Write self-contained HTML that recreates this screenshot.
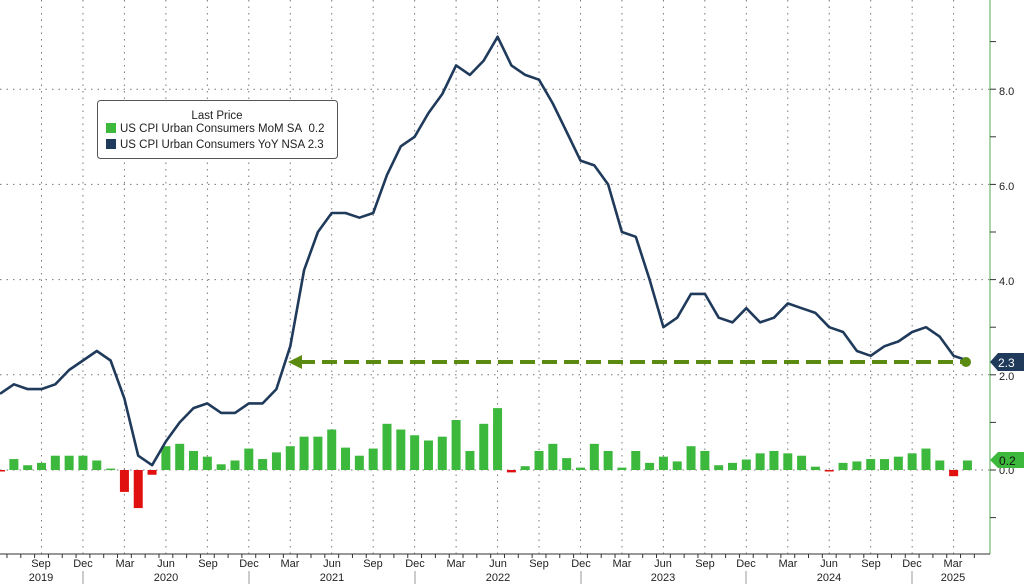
<!DOCTYPE html>
<html><head><meta charset="utf-8"><style>
html,body{margin:0;padding:0;background:#fff}
svg{display:block;font-family:"Liberation Sans",sans-serif}
</style></head><body>
<svg id="c" width="1024" height="584" viewBox="0 0 1024 584" xmlns="http://www.w3.org/2000/svg">
<g id="grid" stroke="#777" stroke-width="1" stroke-dasharray="1.5,5"></g>
<g id="bars"></g>
<polyline id="yoy" fill="none" stroke="#1f3a5a" stroke-width="2.6" stroke-linejoin="round"/>
<line x1="300" y1="362" x2="962" y2="362" stroke="#5a8a10" stroke-width="4" stroke-dasharray="15,7"/>
<polygon points="288,362 302,355 302,369" fill="#5a8a10"/>
<circle cx="966" cy="362" r="5" fill="#5a8a10"/>
<line x1="990" y1="0" x2="990" y2="554" stroke="#8cc68c" stroke-width="1.5"/>
<line x1="0" y1="554" x2="990" y2="554" stroke="#333" stroke-width="1"/>
<g id="ticks" stroke="#333" stroke-width="1"></g>
<g font-size="11" fill="#222">
<text x="999" y="95">8.0</text>
<text x="999" y="190">6.0</text>
<text x="999" y="285">4.0</text>
<text x="999" y="380">2.0</text>
<text x="999" y="474">0.0</text>
</g>
<polygon points="990,362 998,353 1024,353 1024,371 998,371" fill="#1f3a5a"/>
<text x="998" y="367" font-size="12" fill="#fff">2.3</text>
<polygon points="990,460 998,452 1024,452 1024,468 998,468" fill="#3cb83c"/>
<text x="999" y="465" font-size="12" fill="#111">0.2</text>
<g font-size="11" fill="#222" text-anchor="middle">
<text x="41" y="567">Sep</text><text x="83" y="567">Dec</text><text x="125" y="567">Mar</text><text x="166" y="567">Jun</text>
<text x="208" y="567">Sep</text><text x="249" y="567">Dec</text><text x="290" y="567">Mar</text><text x="332" y="567">Jun</text>
<text x="373" y="567">Sep</text><text x="415" y="567">Dec</text><text x="456" y="567">Mar</text><text x="498" y="567">Jun</text>
<text x="539" y="567">Sep</text><text x="581" y="567">Dec</text><text x="622" y="567">Mar</text><text x="663" y="567">Jun</text>
<text x="705" y="567">Sep</text><text x="746" y="567">Dec</text><text x="788" y="567">Mar</text><text x="829" y="567">Jun</text>
<text x="871" y="567">Sep</text><text x="912" y="567">Dec</text><text x="953" y="567">Mar</text>
<text x="41" y="581">2019</text><text x="166" y="581">2020</text><text x="332" y="581">2021</text>
<text x="498" y="581">2022</text><text x="663" y="581">2023</text><text x="829" y="581">2024</text><text x="953" y="581">2025</text>
</g>
<g stroke="#999" stroke-width="1">
<line x1="83" y1="571" x2="83" y2="584"/><line x1="249" y1="571" x2="249" y2="584"/><line x1="415" y1="571" x2="415" y2="584"/>
<line x1="581" y1="571" x2="581" y2="584"/><line x1="746" y1="571" x2="746" y2="584"/><line x1="912" y1="571" x2="912" y2="584"/>
</g>
<rect x="97.5" y="100.5" width="240" height="58" rx="3" fill="#fff" stroke="#555" stroke-width="1"/>
<text x="217" y="119" font-size="11.5" fill="#222" text-anchor="middle">Last Price</text>
<rect x="106" y="123" width="10" height="10" fill="#3cb83c"/>
<text x="120" y="132" font-size="11.5" fill="#222">US CPI Urban Consumers MoM SA&#160; 0.2</text>
<rect x="106" y="139" width="10" height="10" fill="#1f3a5a"/>
<text x="120" y="148" font-size="11.5" fill="#222">US CPI Urban Consumers YoY NSA 2.3</text>
</svg>
<script>
var NS="http://www.w3.org/2000/svg";
function X(m){return 41.5+13.82*m;} // m=0 -> Sep 2019
function Y(v){return 470-47.6*v;}
function el(t,a,p){var e=document.createElementNS(NS,t);for(var k in a)e.setAttribute(k,a[k]);document.getElementById(p).appendChild(e);return e;}
// grid
for(var m=0;m<=66;m+=3){el("line",{x1:X(m),y1:0,x2:X(m),y2:554},"grid");}
[0,2,4,6,8].forEach(function(v){el("line",{x1:0,y1:Y(v),x2:990,y2:Y(v)},"grid");});
// ticks
for(var m=-2;m<=68;m++){var x=X(m)-6.9;if(x<0||x>990)continue;el("line",{x1:x,y1:554,x2:x,y2:558},"ticks");}
[-1,1,3,5,7,9,-0,2,4,6,8].forEach(function(v){el("line",{x1:990,y1:Y(v),x2:996,y2:Y(v)},"ticks");});
// yoy from Jun 2019 (m=-3)
var yoy=[1.6,1.8,1.7,1.7,1.8,2.1,2.3,
2.5,2.3,1.5,0.3,0.1,0.6,1.0,1.3,1.4,1.2,1.2,1.4,
1.4,1.7,2.6,4.2,5.0,5.4,5.4,5.3,5.4,6.2,6.8,7.0,
7.5,7.9,8.5,8.3,8.6,9.1,8.5,8.3,8.2,7.7,7.1,6.5,
6.4,6.0,5.0,4.9,4.0,3.0,3.2,3.7,3.7,3.2,3.1,3.4,
3.1,3.2,3.5,3.4,3.3,3.0,2.9,2.5,2.4,2.6,2.7,2.9,
3.0,2.8,2.4,2.3];
var pts=[];for(var i=0;i<yoy.length;i++){pts.push(X(i-3).toFixed(1)+","+Y(yoy[i]).toFixed(1));}
document.getElementById("yoy").setAttribute("points",pts.join(" "));
// mom from Jun 2019 (m=-3)
var mom=[-0.02,0.23,0.1,0.15,0.3,0.3,0.3,
0.2,0.03,-0.46,-0.8,-0.1,0.5,0.55,0.4,0.28,0.12,0.2,0.45,
0.23,0.37,0.5,0.7,0.7,0.85,0.47,0.3,0.45,0.97,0.85,0.73,
0.62,0.7,1.05,0.4,0.97,1.3,-0.05,0.08,0.4,0.55,0.25,0.05,
0.55,0.4,0.05,0.4,0.15,0.28,0.18,0.5,0.4,0.1,0.15,0.22,
0.35,0.4,0.35,0.3,0.07,-0.02,0.15,0.18,0.23,0.23,0.28,0.35,
0.45,0.2,-0.13,0.2];
for(var i=0;i<mom.length;i++){var v=mom[i],x=X(i-3)-4.5;if(x<-4)x=-4;
var y=v>=0?Y(v):470,h=Math.max(1.5,Math.abs(v)*47.6);
el("rect",{x:x,y:y,width:9,height:h,fill:v>=0?"#3cb83c":"#e01010"},"bars");}
</script>
</body></html>
